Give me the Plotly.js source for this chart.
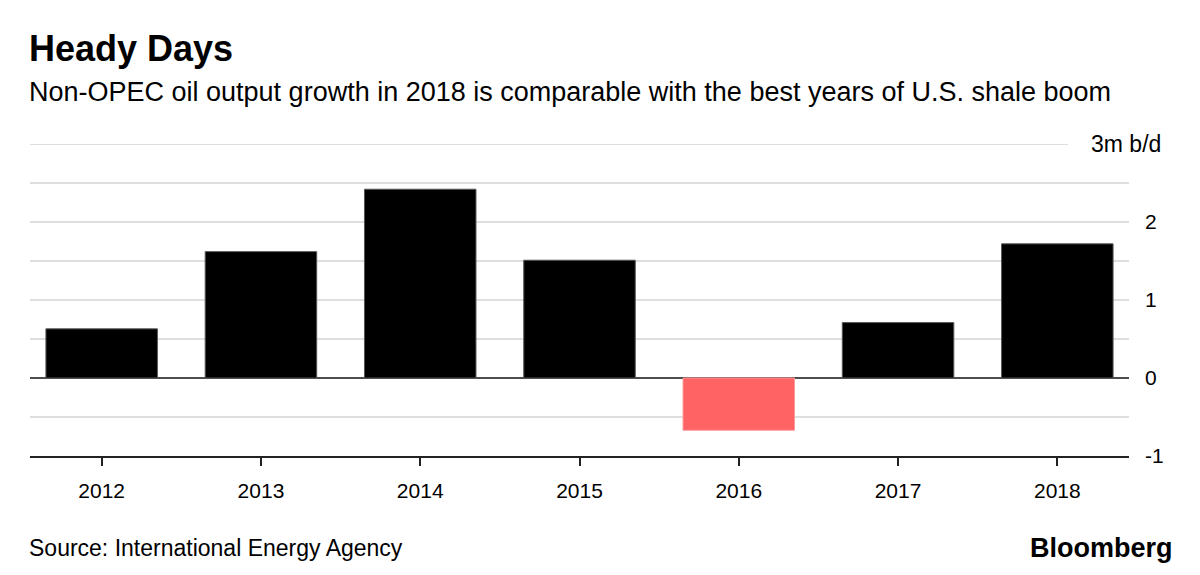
<!DOCTYPE html>
<html>
<head>
<meta charset="utf-8">
<script src="https://cdn.plot.ly/plotly-3.0.1.min.js"></script>
<style>
  html, body { margin: 0; padding: 0; background: #fff; }
  #chart { width: 1200px; height: 575px; }
</style>
</head>
<body>
<div id="chart"></div>
<script>
// ---- data ----
const years = ['2012', '2013', '2014', '2015', '2016', '2017', '2018'];
const growth = [0.63, 1.62, 2.42, 1.51, -0.67, 0.71, 1.72];
const yTickVals = [-1, 0, 1, 2];
const yTickText = ['-1', '0', '1', '2'];
const gridVals = [-0.5, 0.5, 1, 1.5, 2, 2.5, 3];
const unitLabel = '3m b/d';

const titleText = 'Heady Days';
const subtitleText = 'Non-OPEC oil output growth in 2018 is comparable with the best years of U.S. shale boom';
const sourceText = 'Source: International Energy Agency';
const brandText = 'Bloomberg';

const FONT = '"Liberation Sans", Arial, Helvetica, sans-serif';

const barColors = growth.map(v => v < 0 ? '#ff6363' : '#000000');
const barLines = growth.map(v => v < 0 ? '#ff9a9a' : '#555555');

const trace = {
  type: 'bar',
  x: years,
  y: growth,
  marker: { color: barColors, line: { color: barLines, width: 1 } },
  hoverinfo: 'x+y'
};

const shapes = gridVals.map(v => ({
  type: 'line', xref: 'paper', yref: 'y',
  x0: 0, x1: v === 3 ? 0.9445 : 1, y0: v, y1: v,
  line: { color: '#dedede', width: 2 },
  layer: 'below'
}));

const layout = {
  width: 1200, height: 575,
  margin: { l: 30, r: 71, t: 144, b: 119 },
  paper_bgcolor: '#ffffff', plot_bgcolor: '#ffffff',
  showlegend: false,
  bargap: 0.3,
  font: { family: FONT, color: '#000' },
  xaxis: {
    type: 'category',
    range: [-0.45, 6.45],
    showgrid: false,
    zeroline: false,
    showline: true, linecolor: '#222', linewidth: 2,
    ticks: 'outside', ticklen: 8, tickwidth: 1.5, tickcolor: '#222',
    ticklabelstandoff: 7,
    tickfont: { family: FONT, size: 21, color: '#000' },
    fixedrange: true
  },
  yaxis: {
    side: 'right',
    range: [-1, 3],
    tickvals: yTickVals,
    ticktext: yTickText,
    showgrid: false,
    zeroline: true, zerolinecolor: '#4d4d4d', zerolinewidth: 1.5,
    showline: false,
    ticks: '',
    ticklabelstandoff: 15,
    tickfont: { family: FONT, size: 21, color: '#000' },
    fixedrange: true
  },
  shapes: shapes,
  annotations: [
    { text: '<b>' + titleText + '</b>', xref: 'paper', yref: 'paper',
      x: 0, y: 1 + (144 - 48) / 312, xanchor: 'left', yanchor: 'middle', xshift: -3,
      showarrow: false, font: { family: FONT, size: 36, color: '#000' } },
    { text: subtitleText, xref: 'paper', yref: 'paper',
      x: 0, y: 1 + (144 - 92) / 312, xanchor: 'left', yanchor: 'middle', xshift: -3,
      showarrow: false, font: { family: FONT, size: 27, color: '#000' } },
    { text: unitLabel, xref: 'paper', yref: 'y',
      x: (1163 - 30) / 1099, y: 3, xanchor: 'right', yanchor: 'middle',
      showarrow: false, font: { family: FONT, size: 23, color: '#000' } },
    { text: sourceText, xref: 'paper', yref: 'paper',
      x: 0, y: -(548 - 456) / 312, xanchor: 'left', yanchor: 'middle', xshift: -3,
      showarrow: false, font: { family: FONT, size: 23, color: '#000' } },
    { text: '<b>' + brandText + '</b>', xref: 'paper', yref: 'paper',
      x: (1175 - 30) / 1099, y: -(548 - 456) / 312, xanchor: 'right', yanchor: 'middle',
      showarrow: false, font: { family: FONT, size: 27, color: '#000' } }
  ]
};

Plotly.newPlot('chart', [trace], layout, { displayModeBar: false });
</script>
</body>
</html>
